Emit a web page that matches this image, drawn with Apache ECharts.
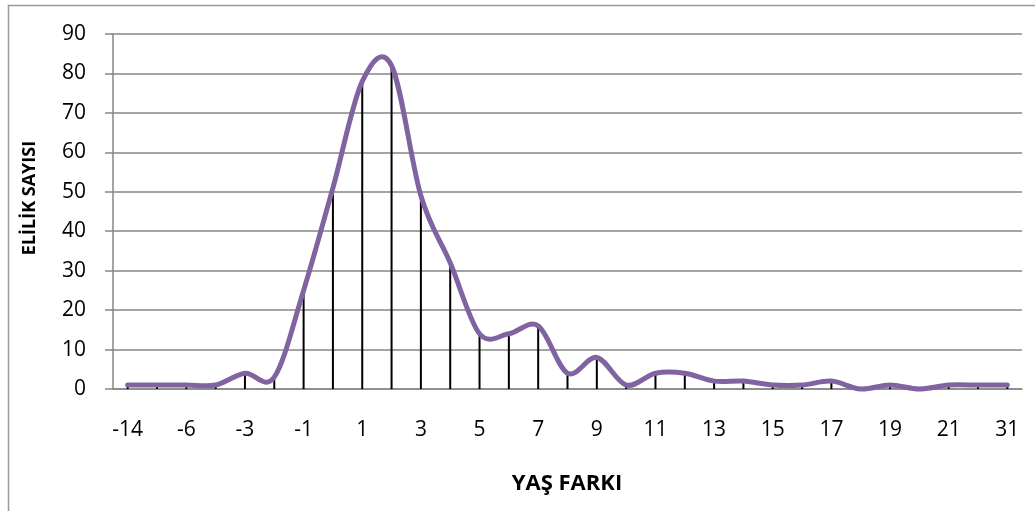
<!DOCTYPE html>
<html>
<head>
<meta charset="utf-8">
<script src="https://cdn.jsdelivr.net/npm/echarts@6/dist/echarts.min.js"></script>
<style>html,body{margin:0;padding:0;background:#fff}#c{width:1035px;height:511px}</style>
</head>
<body>
<div id="c"></div>
<script>
var categories = ['-14','-8','-6','-4','-3','-2','-1','0','1','2','3','4','5','6','7','8','9','10','11','12','13','14','15','16','17','18','19','20','21','22','31'];
var counts = [1,1,1,1,4,3,25,51,78,82,49,32,14,14,16,4,8,1,4,4,2,2,1,1,2,0,1,0,1,1,1];
var yTitle = 'ELİLİK SAYISI';
var xTitle = 'YAŞ FARKI';

var chart = echarts.init(document.getElementById('c'), null, {renderer:'canvas'});
var font = '"Open Sans", sans-serif';

// Smooth curve through the data points (Excel-like Catmull-Rom), positioned by the chart's own scales
function renderCurve(params, api) {
  if (params.dataIndex !== 0) return null;
  var pts = counts.map(function (v, i) { return api.coord([i, v]); });
  var n = pts.length;
  var d = 'M' + pts[0][0] + ' ' + pts[0][1];
  for (var i = 0; i < n - 1; i++) {
    var p0 = pts[Math.max(i - 1, 0)], p1 = pts[i], p2 = pts[i + 1], p3 = pts[Math.min(i + 2, n - 1)];
    var c1x = p1[0] + (p2[0] - p0[0]) / 6, c1y = p1[1] + (p2[1] - p0[1]) / 6;
    var c2x = p2[0] - (p3[0] - p1[0]) / 6, c2y = p2[1] - (p3[1] - p1[1]) / 6;
    d += ' C' + c1x + ' ' + c1y + ' ' + c2x + ' ' + c2y + ' ' + p2[0] + ' ' + p2[1];
  }
  return {
    type: 'path',
    shape: {pathData: d},
    style: {fill: 'none', stroke: '#8064A2', lineWidth: 5, lineCap: 'round', lineJoin: 'round'},
    z2: 10
  };
}

chart.setOption({
  animation: false,
  grid: {left: 113, top: 34, right: 13, bottom: 122, containLabel: false},
  xAxis: {
    type: 'category',
    data: categories,
    boundaryGap: true,
    axisLine: {show: true, lineStyle: {color: '#868686', width: 1.5}},
    axisTick: {show: false},
    axisLabel: {interval: 1, color: '#000', fontSize: 21, fontFamily: font, margin: 31}
  },
  yAxis: {
    type: 'value',
    min: 0, max: 90, interval: 10,
    axisLine: {show: true, lineStyle: {color: '#868686', width: 1.5}},
    axisTick: {show: true, length: 8, lineStyle: {color: '#868686', width: 1.5}},
    axisLabel: {color: '#000', fontSize: 21, fontFamily: font, margin: 27},
    splitLine: {show: true, lineStyle: {color: '#868686', width: 1.5}}
  },
  graphic: [
    {type: 'rect', shape: {x: 8.5, y: 5.5, width: 1100, height: 600}, style: {fill: 'none', stroke: '#999999', lineWidth: 1.5}, silent: true},
    {type: 'text', x: 30, y: 198, rotation: Math.PI/2, style: {text: yTitle, font: 'bold 18px "Open Sans", sans-serif', fill: '#000', textAlign: 'center', textVerticalAlign: 'middle'}},
    {type: 'text', x: 567, y: 484, style: {text: xTitle, font: 'bold 22px "Open Sans", sans-serif', fill: '#000', textAlign: 'center', textVerticalAlign: 'middle'}}
  ],
  series: [
    {type: 'bar', data: counts, barWidth: 2, itemStyle: {color: '#000'}, z: 2, silent: true},
    {type: 'custom', data: counts.map(function (v, i) { return [i, v]; }), encode: {x: 0, y: 1}, renderItem: renderCurve, clip: false, z: 3, silent: true}
  ]
});
</script>
</body>
</html>
